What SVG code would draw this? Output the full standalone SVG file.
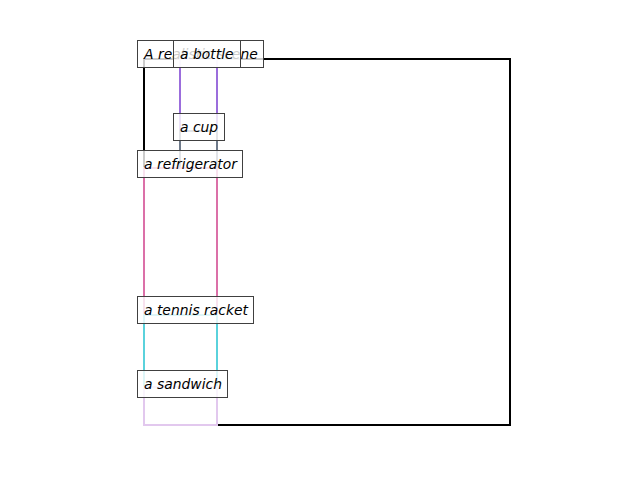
<svg xmlns="http://www.w3.org/2000/svg" width="640" height="480" viewBox="0 0 640 480">
<style>
.box{fill:none;stroke-width:2}
.lbl rect{fill:#ffffff;fill-opacity:0.8;stroke:#404040;stroke-width:1}
.lbl text{font-family:"DejaVu Sans",sans-serif;font-style:italic;font-size:13.9px;fill:#000}
</style>
<rect width="640" height="480" fill="#ffffff"/>
<g id="connectors"></g>
<g id="boxes">
<rect id="scene-box" class="box" x="144" y="59" width="366" height="366" stroke="#000000"/>
<rect id="bottle-box" class="box" x="180" y="59" width="37" height="72" stroke="#9b6ddc"/>
<rect id="cup-box" class="box" x="180" y="131" width="37" height="37" stroke="#6e7a8a"/>
<rect id="refrigerator-box" class="box" x="144" y="168" width="73" height="147" stroke="#db70a8"/>
<rect id="tennis-box" class="box" x="144" y="315" width="73" height="72" stroke="#5ad2dc"/>
<rect id="sandwich-box" class="box" x="144" y="387" width="73" height="38" stroke="#e2c8ee"/>
</g>
<g id="scene" class="lbl"><rect x="137.5" y="40.5" width="126" height="27"/><text x="144" y="59">A realistic scene</text></g>
<g id="bottle" class="lbl"><rect x="173.5" y="40.5" width="67" height="27"/><text x="180" y="59">a bottle</text></g>
<g id="cup" class="lbl"><rect x="173.5" y="113.5" width="51" height="27"/><text x="180" y="132">a cup</text></g>
<g id="refrigerator" class="lbl"><rect x="137.5" y="150.5" width="105" height="27"/><text x="144" y="169">a refrigerator</text></g>
<g id="tennis-racket" class="lbl"><rect x="137.5" y="296.5" width="116" height="27"/><text x="144" y="315">a tennis racket</text></g>
<g id="sandwich" class="lbl"><rect x="137.5" y="370.5" width="90" height="27"/><text x="144" y="389">a sandwich</text></g>
</svg>
